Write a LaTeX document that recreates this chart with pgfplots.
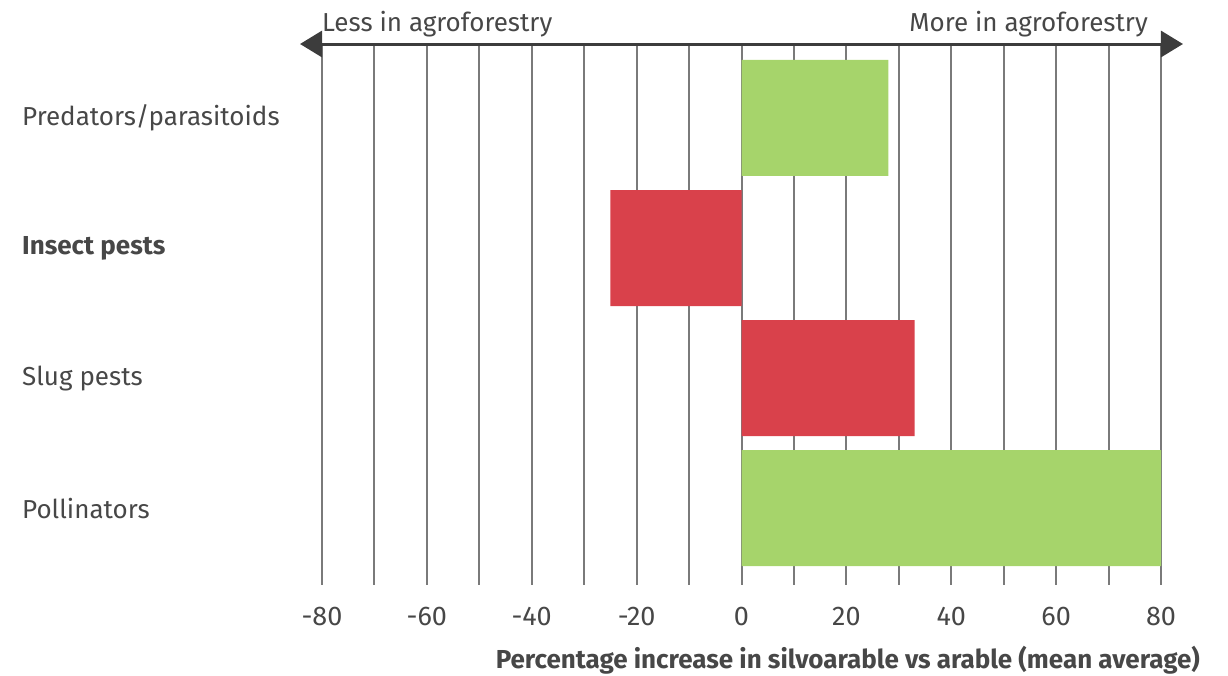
\documentclass[border=0pt]{standalone}
\usepackage{pgfplots}
\pgfplotsset{compat=1.18}
\usepackage{fontspec}
\setmainfont{Fira Sans}
\usetikzlibrary{arrows.meta}
\definecolor{barGreen}{HTML}{A6D46B}
\definecolor{barRed}{HTML}{D9414B}
\definecolor{txt}{HTML}{474747}
\definecolor{gridc}{HTML}{7A7A7A}
\definecolor{arrowc}{HTML}{3C3C3C}
\begin{document}
\begin{tikzpicture}
\useasboundingbox (0,0) rectangle (1228pt,675pt);
\begin{axis}[
  at={(322pt,90pt)}, anchor=south west,
  scale only axis, width=839pt, height=541pt,
  xmin=-80, xmax=80,
  ymin=-0.569, ymax=3.592, y dir=reverse,
  xbar, bar width=116pt, bar shift=0pt,
  axis line style={draw=none},
  major tick length=0pt, minor tick length=0pt,
  xtick={-80,-60,...,80},
  minor xtick={-70,-50,...,70},
  xmajorgrids, xminorgrids,
  grid style={gridc, line width=2pt},
  minor grid style={gridc, line width=2pt},
  ytick={0,1,2,3},
  yticklabels={Predators/parasitoids,\textbf{Insect pests},Slug pests,Pollinators},
  yticklabel style={anchor=west, xshift=-300pt, inner sep=0pt, font=\fontsize{26}{30}\selectfont, text=txt},
  /pgf/number format/assume math mode=true,
  xticklabel style={anchor=base, yshift=-40pt, inner sep=0pt, font=\fontsize{27}{30}\selectfont, text=txt},
  xlabel={\textbf{Percentage increase in silvoarable vs arable (mean average)}},
  xlabel style={at={(rel axis cs:1.0465,0)}, anchor=base east, yshift=-83pt, inner sep=0pt, font=\fontsize{26}{30}\selectfont, text=txt},
  clip=false,
]
\addplot[draw=none, fill=barGreen] coordinates {(28,0) (80,3)};
\addplot[draw=none, fill=barRed] coordinates {(-25,1) (33,2)};
\draw[arrowc, line width=3pt, {Triangle[length=22pt,width=26pt]}-{Triangle[length=22pt,width=26pt]}]
  (rel axis cs:-0.0262,1) -- (rel axis cs:1.0262,1);
\node[anchor=base west, inner sep=0pt, text=txt, font=\fontsize{26}{30}\selectfont, yshift=13pt] at (rel axis cs:0,1) {Less in agroforestry};
\node[anchor=base east, inner sep=0pt, text=txt, font=\fontsize{26}{30}\selectfont, yshift=13pt] at (rel axis cs:0.9845,1) {More in agroforestry};
\end{axis}
\end{tikzpicture}
\end{document}
